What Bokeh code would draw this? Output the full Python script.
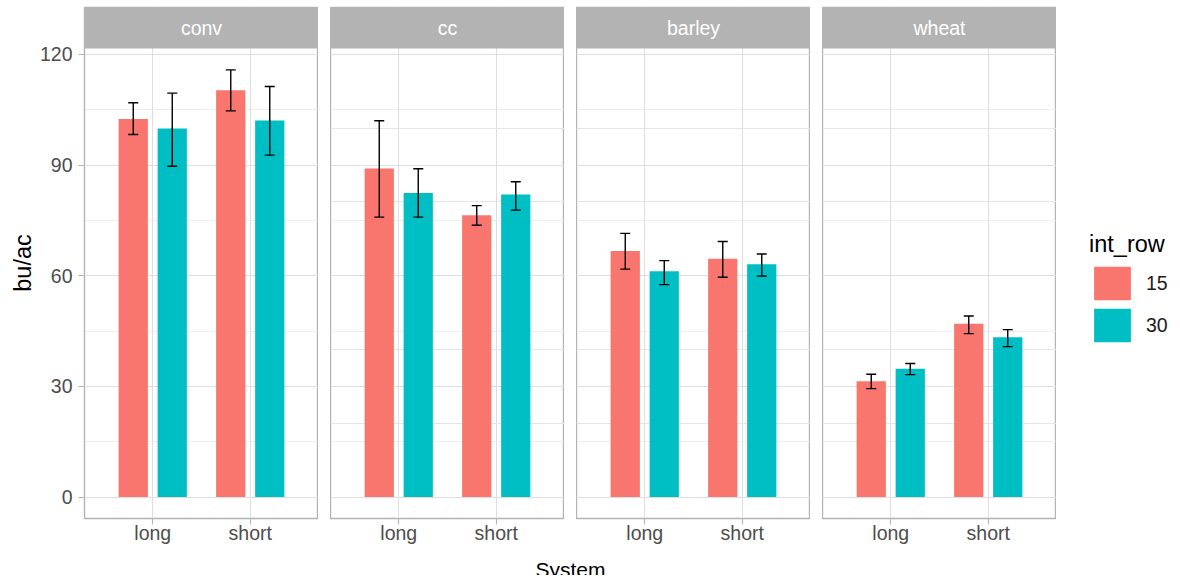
from bokeh.plotting import figure
from bokeh.models import (ColumnDataSource, FactorRange, Range1d, FixedTicker, Whisker,
                          TeeHead, Legend, LegendItem, Grid, BoxAnnotation)
from bokeh.transform import dodge
from bokeh.layouts import row, column
from bokeh.embed import file_html
from bokeh.resources import INLINE
from bokeh.core.properties import value

# ---------------- data ----------------
facets = ["conv", "cc", "barley", "wheat"]
systems = ["long", "short"]
int_rows = ["15", "30"]

# order: facet x system (conv-long, conv-short, cc-long, ...)
yield_15 = [102.5, 110.3, 89.1, 76.4, 66.7, 64.6, 31.4, 47.0]
lower_15 = [98.3, 104.7, 75.9, 73.7, 61.8, 59.6, 29.4, 44.3]
upper_15 = [106.9, 115.8, 102.0, 79.0, 71.5, 69.3, 33.3, 49.1]

yield_30 = [99.9, 102.1, 82.4, 82.0, 61.2, 63.1, 34.8, 43.3]
lower_30 = [89.7, 92.7, 75.9, 77.8, 57.6, 59.9, 33.2, 40.8]
upper_30 = [109.5, 111.3, 89.0, 85.5, 64.1, 65.9, 36.2, 45.4]

y_ticks = [0, 30, 60, 90, 120]
y_minor = [15, 45, 75, 105]

# ---------------- style ----------------
FONT = "Liberation Sans"
COLORS = {"15": "#F8766D", "30": "#00BFC4"}
GRID = "#DEDEDE"
BORDER = "#B3B3B3"
TICKTXT = "#4D4D4D"

FRAME_W, FRAME_H = 234, 470
LEFT = 84
TOP = 7
STRIP_H = 41
BOTTOM = 30
GAP = 12
LEG_FIG_W = 110
Y_LO, Y_HI = -5.8, 121.6
Y_END = Y_HI + STRIP_H * (Y_HI - Y_LO) / FRAME_H   # strip sits above the data area

cols = []
for i, fac in enumerate(facets):
    ml = LEFT if i == 0 else 0

    xr = FactorRange(*systems, range_padding=0.2, range_padding_units="absolute")
    yr = Range1d(Y_LO, Y_END)
    p = figure(frame_width=FRAME_W, frame_height=FRAME_H + STRIP_H, x_range=xr, y_range=yr,
               toolbar_location=None, output_backend="svg",
               y_axis_location="left" if i == 0 else None,
               min_border_left=ml, min_border_right=0, min_border_top=TOP,
               min_border_bottom=BOTTOM)
    p.background_fill_color = "white"
    p.border_fill_color = "white"
    p.outline_line_color = BORDER
    p.outline_line_width = 1.4

    ticker = FixedTicker(ticks=y_ticks, minor_ticks=y_minor)
    if i == 0:
        yg = p.ygrid[0]
        yg.ticker = ticker
        ya = p.yaxis[0]
        ya.ticker = ticker
        ya.axis_label = "bu/ac"
        ya.axis_label_text_font = FONT
        ya.axis_label_text_font_size = "23.5px"
        ya.axis_label_text_font_style = "normal"
        ya.axis_label_text_color = "black"
        ya.axis_label_standoff = 1
        ya.major_label_text_font = FONT
        ya.major_label_text_font_size = "19.5px"
        ya.major_label_text_color = TICKTXT
        ya.major_label_standoff = 6
        ya.major_tick_out = 6
        ya.major_tick_in = 0
        ya.minor_tick_out = 0
        ya.minor_tick_in = 0
        ya.major_tick_line_color = BORDER
        ya.major_tick_line_width = 1.1
        ya.axis_line_color = None
    else:
        yg = Grid(dimension=1, ticker=ticker)
        p.add_layout(yg)
    yg.grid_line_color = GRID
    yg.grid_line_width = 1.1
    yg.minor_grid_line_color = "#E6E6E6"
    yg.minor_grid_line_width = 0.7

    xg = p.xgrid[0]
    xg.grid_line_color = GRID
    xg.grid_line_width = 1.1

    xa = p.xaxis[0]
    xa.axis_label = None
    xa.major_label_text_font = FONT
    xa.major_label_text_font_size = "19.5px"
    xa.major_label_text_color = TICKTXT
    xa.major_label_standoff = -3
    xa.major_tick_out = 6
    xa.major_tick_in = 0
    xa.major_tick_line_color = BORDER
    xa.major_tick_line_width = 1.1
    xa.axis_line_color = None

    # facet strip (grey band above the data area) and its label
    p.add_layout(BoxAnnotation(bottom=Y_HI, fill_color=BORDER, fill_alpha=1.0,
                               line_color=None, level="annotation"))
    p.text(x=[1.0], y=[(Y_HI + Y_END) / 2], text=[fac], text_align="center",
           text_baseline="middle", text_color="white", text_font=value(FONT),
           text_font_size="19.5px", level="overlay")

    k = 2 * i
    src = ColumnDataSource(dict(
        system=systems,
        y15=yield_15[k:k + 2], lo15=lower_15[k:k + 2], hi15=upper_15[k:k + 2],
        y30=yield_30[k:k + 2], lo30=lower_30[k:k + 2], hi30=upper_30[k:k + 2],
    ))
    for row_sp, off in (("15", -0.2), ("30", 0.2)):
        p.vbar(x=dodge("system", off, range=xr), top="y" + row_sp, bottom=0, width=0.3,
               source=src, fill_color=COLORS[row_sp], line_color=None)
        w = Whisker(base=dodge("system", off, range=xr), upper="hi" + row_sp,
                    lower="lo" + row_sp, source=src, level="annotation",
                    line_color="black", line_width=1.4,
                    upper_head=TeeHead(size=10, line_color="black", line_width=1.4),
                    lower_head=TeeHead(size=10, line_color="black", line_width=1.4))
        p.add_layout(w)

    cols.append(p)

# ---- legend (separate figure; key renderers hidden, legend still shows them) ----
LEG_H = TOP + STRIP_H + FRAME_H
lsrc = ColumnDataSource(dict(system=systems, y15=yield_15[:2], y30=yield_30[:2]))
lf = figure(width=LEG_FIG_W, height=LEG_H, x_range=FactorRange(*systems), y_range=(0, 200),
            toolbar_location=None, output_backend="svg",
            x_axis_location=None, y_axis_location=None, min_border=0)
lf.grid.visible = False
lf.outline_line_color = None
items = []
for r_ in int_rows:
    rr = lf.vbar(x="system", top="y" + r_, width=0.5, source=lsrc,
                 fill_color=COLORS[r_], line_color=None, visible=False)
    items.append(LegendItem(label=value(r_), renderers=[rr]))
leg = Legend(items=items, location=(21, 142), title="int_row",
             title_text_font=FONT, title_text_font_size="23.5px",
             title_text_font_style="normal", title_text_color="black",
             title_standoff=4,
             label_text_font=FONT, label_text_font_size="19.5px",
             label_text_color="#1A1A1A", label_standoff=11,
             glyph_width=46, glyph_height=42, spacing=0,
             padding=0, margin=0, border_line_color=None,
             background_fill_alpha=0, click_policy="none",
             inactive_fill_alpha=0)
lf.add_layout(leg)

panels_row = row(*cols, lf, spacing=GAP)

# ---- shared x-axis title ----
TOTAL_W = 1180
SYS_H = 27
sysfig = figure(width=TOTAL_W, height=SYS_H, x_range=Range1d(0, TOTAL_W),
                y_range=Range1d(0, SYS_H),
                toolbar_location=None, output_backend="svg",
                x_axis_location=None, y_axis_location=None,
                min_border=0)
sysfig.grid.visible = False
sysfig.outline_line_color = None
sysfig.text(x=[LEFT + (4 * FRAME_W + 3 * GAP) / 2], y=[6.5], text=["System"], text_align="center",
            text_baseline="alphabetic", text_color="black", text_font=value(FONT),
            text_font_size="21px")

layout = column(panels_row, sysfig, spacing=0)

open("out.html", "w").write(file_html(layout, INLINE))
